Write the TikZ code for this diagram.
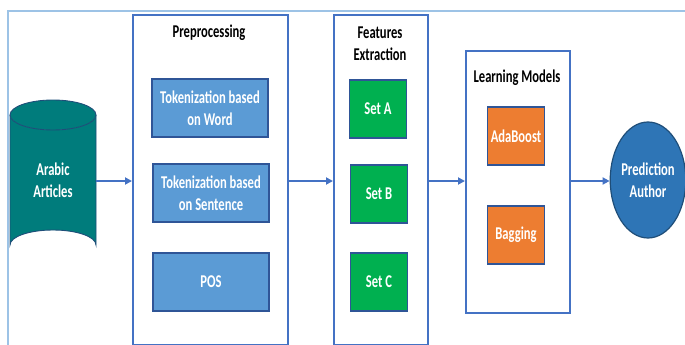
\documentclass[tikz,border=0pt]{standalone}
\usepackage{fontspec}
\setmainfont{Carlito}[FakeStretch=0.7]
\usetikzlibrary{arrows.meta,shapes.geometric}
\definecolor{frameblue}{HTML}{4472C4}
\definecolor{paleblue}{HTML}{9DC3E6}
\definecolor{boxblue}{HTML}{5B9BD5}
\definecolor{edgeblue}{HTML}{2F5597}
\definecolor{setgreen}{HTML}{00B050}
\definecolor{modelorange}{HTML}{ED7D31}
\definecolor{dbteal}{HTML}{007C7C}
\definecolor{predblue}{HTML}{2E75B6}
\definecolor{darkedge}{HTML}{1F4E79}
\tikzset{
  label font/.style={font=\bfseries\fontsize{18}{21.7}\selectfont},
  stage/.style={draw=frameblue, line width=1.8pt},
  title/.style={label font, align=center, text=black, inner sep=0pt},
  inner/.style={draw=edgeblue, line width=1.2pt, text=white, align=center,
    label font, inner sep=0pt},
  procbox/.style={inner, fill=boxblue, minimum width=116pt, minimum height=58pt},
  setbox/.style={inner, fill=setgreen, minimum width=57pt, minimum height=58pt},
  modelbox/.style={inner, fill=modelorange, minimum width=57pt, minimum height=58pt},
  flow/.style={draw=frameblue, line width=1.8pt, -{Triangle[length=7pt,width=7pt]}},
}
\begin{document}
\begin{tikzpicture}[x=1pt,y=-1pt]
\useasboundingbox (0,0) rectangle (685,345);
% outer frame, running off the right and bottom edges
\draw[paleblue, line width=1.5pt] (8,346) -- (8,11) -- (686,11);

% source database
\fill[dbteal] (10,115) -- (10,245) arc[start angle=180, end angle=360, x radius=43, y radius=15]
  -- (96,115) arc[start angle=0, end angle=180, x radius=43, y radius=15] -- cycle;
\draw[darkedge, line width=0.9pt] (10,115) -- (10,245) arc[start angle=180, end angle=360, x radius=43, y radius=15]
  -- (96,115);
\draw[darkedge, line width=0.9pt, fill=dbteal] (53,115) ellipse[x radius=43, y radius=15];
\node[inner, draw=none, anchor=center] (src) at (53,180) {Arabic\\Articles};
\coordinate (srcout) at (96,181);

% stage containers
\node[stage, minimum width=155pt, minimum height=330pt, anchor=north west] (pre) at (132,14) {};
\node[stage, minimum width=94pt, minimum height=330pt, anchor=north west] (feat) at (333,14) {};
\node[stage, minimum width=104pt, minimum height=262pt, anchor=north west] (learn) at (465,50) {};

\node[title] (pret) at (209,33) {Preprocessing};
\node[title] (featt) at (380,44) {Features\\Extraction};
\node[title] (learnt) at (517,78) {Learning Models};

% preprocessing steps
\node[procbox] (tw) at (210,108) {Tokenization based\\on Word};
\node[procbox] (ts) at (211,193) {Tokenization based\\on Sentence};
\node[procbox] (pos) at (211,282) {POS};

% feature sets
\node[setbox] (sa) at (378,109) {Set A};
\node[setbox] (sb) at (379,194) {Set B};
\node[setbox] (sc) at (379,282) {Set C};

% classifiers
\node[modelbox] (ada) at (516,136) {AdaBoost};
\node[modelbox] (bag) at (516,235) {Bagging};

% output
\node[draw=darkedge, line width=1.2pt, fill=predblue, ellipse, minimum width=74pt, minimum height=116pt,
  inner sep=0pt, text=white, align=center, label font] (pred) at (648,180)
  {Prediction\\Author};

% flow between stages
\draw[flow] (srcout) -- (pre.west |- srcout);
\draw[flow] (pre.east |- srcout) -- (feat.west |- srcout);
\draw[flow] (feat.east |- srcout) -- (learn.west |- srcout);
\draw[flow] (learn.east |- srcout) -- (pred.west |- srcout);
\end{tikzpicture}
\end{document}
